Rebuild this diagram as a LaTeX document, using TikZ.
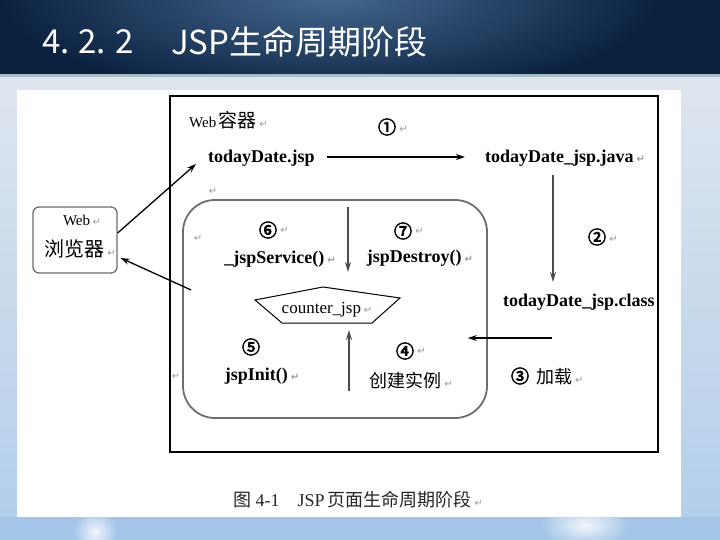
\documentclass[tikz,border=0pt]{standalone}
\usepackage{fontspec}
\setmainfont{Liberation Serif}
\newfontfamily\cjk{Noto Sans CJK SC}
\newfontfamily\circfont[AutoFakeBold=4]{Noto Sans CJK SC}
\newfontfamily\sym{DejaVu Sans}
\usetikzlibrary{arrows.meta,calc}
\definecolor{navy}{HTML}{0B2140}
\definecolor{titlelight}{HTML}{44688F}
\definecolor{strip}{HTML}{A4BEC6}
\definecolor{bgtop}{HTML}{DFE5EE}
\definecolor{bgbot}{HTML}{B3CFEB}
\definecolor{band}{HTML}{A3C5E7}
\definecolor{rrgray}{HTML}{6E6E6E}
\newcommand\retm{\,{\sym\fontsize{10}{10}\selectfont\textcolor{gray!80}{↵}}}
\tikzset{
  lbl/.style={font=\bfseries\fontsize{18}{18}\selectfont, inner sep=1pt, anchor=west},
  num/.style={font=\circfont\bfseries\fontsize{18}{18}\selectfont, inner sep=0pt},
  zh/.style={font=\cjk\fontsize{18}{18}\selectfont, inner sep=1pt},
  retnode/.style={font=\sym\fontsize{10}{10}\selectfont, text=gray!80, inner sep=0pt},
  arr/.style={-{Stealth[length=9pt,width=6pt]}, line width=1.3pt},
  garr/.style={-{Stealth[length=10pt,width=6pt]}, line width=1.6pt, draw=black!70},
}
\begin{document}
\begin{tikzpicture}[x=1pt,y=-1pt]
\useasboundingbox (0,0) rectangle (720,540);
% slide background
\shade[top color=bgtop, bottom color=bgbot] (0,77) rectangle (720,517);
\fill[band] (0,517) rectangle (720,540);
\begin{scope}
  \clip (0,517) rectangle (720,540);
  \shade[inner color=white!85!band, outer color=band] (95,532) ellipse (22 and 22);
  \shade[inner color=white!85!band, outer color=band] (585,525) ellipse (45 and 22);
\end{scope}
% title bar
\fill[navy] (0,0) rectangle (720,74);
\begin{scope}
  \clip (0,0) rectangle (720,74);
  \shade[inner color=titlelight, outer color=navy] (330,-5) ellipse (330 and 105);
\end{scope}
\fill[strip] (0,74) rectangle (720,77);
\node[anchor=west, text=white, font=\cjk\fontsize{33}{33}\selectfont, inner sep=0pt] (tnum) at (42,42) {4.\hspace{9pt}2.\hspace{9pt}2};
\node[anchor=west, text=white, font=\cjk\fontsize{33}{33}\selectfont, inner sep=0pt] (ttext) at (171,42) {JSP生命周期阶段};
% white picture
\fill[white] (17,90) rectangle (681,517);
% container frame
\draw[line width=1.8pt] (170,96) rectangle (658,452);
\node[anchor=west, inner sep=0pt, font=\fontsize{15}{15}\selectfont] (webc) at (189,120) {Web\,{\cjk\fontsize{19}{19}\selectfont 容器}\retm};
% top row
\node[num] (n1) at (387,127) {①};
\node[retnode, anchor=west] at ($(n1.east)+(3,2)$) {↵};
\node[lbl] (jsp) at (207,158) {todayDate.jsp};
\node[lbl] (java) at (484,158) {todayDate\_jsp.java\retm};
\node[retnode] at (213,191) {↵};
% class side
\node[num] (n2) at (597,237) {②};
\node[retnode, anchor=west] at ($(n2.east)+(3,2)$) {↵};
\node[lbl] (cls) at (502,302) {todayDate\_jsp.class};
\node[num] (n3) at (520,376) {③};
\node[zh, anchor=west] (load) at (535,377) {加载\retm};
% rounded inner box
\node[draw=rrgray, line width=1.8pt, rounded corners=32pt, minimum width=304pt, minimum height=218pt, inner sep=0pt] (rr) at (335,309) {};
\node[retnode] at (198,238) {↵};
\node[retnode] at (176,376) {↵};
\node[num] (n6) at (268,230) {⑥};
\node[retnode, anchor=west] at ($(n6.east)+(3,0)$) {↵};
\node[lbl, anchor=center] (svc) at (280,259) {\_jspService()\retm};
\node[num] (n7) at (403,231) {⑦};
\node[retnode, anchor=west] at ($(n7.east)+(3,0)$) {↵};
\node[lbl, anchor=center] (dst) at (420,258) {jspDestroy()\retm};
\node[inner sep=0pt, font=\fontsize{17}{17}\selectfont] (cnt) at (327,310) {counter\_jsp\retm};
\draw[line width=1pt] ($(cnt.center)+(-72,-10)$) -- ($(cnt.center)+(-4,-23)$) -- ($(cnt.center)+(73,-12)$) -- ($(cnt.center)+(45,13)$) -- ($(cnt.center)+(-45,13)$) -- cycle;
\node[num] (n5) at (251,347) {⑤};
\node[lbl, anchor=center] (init) at (262,376) {jspInit()\retm};
\node[num] (n4) at (405,351) {④};
\node[retnode, anchor=west] at ($(n4.east)+(3,0)$) {↵};
\node[zh, anchor=center] (inst) at (411,381) {创建实例\retm};
% browser
\node[draw=rrgray, line width=1.3pt, rounded corners=6pt, minimum width=84pt, minimum height=66pt, inner sep=0pt] (browser) at (75,240) {};
\node[inner sep=0pt, font=\fontsize{15}{15}\selectfont] (bweb) at (82,220) {Web\retm};
\node[inner sep=0pt, font=\cjk\fontsize{20}{20}\selectfont] (bzh) at (80,249) {浏览器\retm};
% connectors
\draw[arr] ($(jsp.west)+(120,-1)$) -- ($(java.west)+(-19,-1)$);
\draw[garr] ($(java.west)+(69,17)$) -- ($(cls.west)+(51,-20)$);
\draw[arr] ($(cls.west)+(50,36)$) -- ($(rr.east)+(-20,29)$);
\draw[arr] ($(browser.east)+(0,-7)$) -- ($(jsp.west)+(-11,6)$);
\draw[arr] ($(rr.west)+(9,-19)$) -- ($(browser.east)+(3,18)$);
\draw[garr] ($(rr.north)+(13,8)$) -- ($(cnt.center)+(21,-38)$);
\draw[garr] ($(rr.south)+(14,-28)$) -- ($(cnt.center)+(22,20)$);
% caption
\node[inner sep=0pt, text=black!85, font=\fontsize{18}{18}\selectfont] (cap) at (358,500) {{\cjk 图}\ 4-1\quad JSP\,{\cjk 页面生命周期阶段}\retm};
\end{tikzpicture}
\end{document}
